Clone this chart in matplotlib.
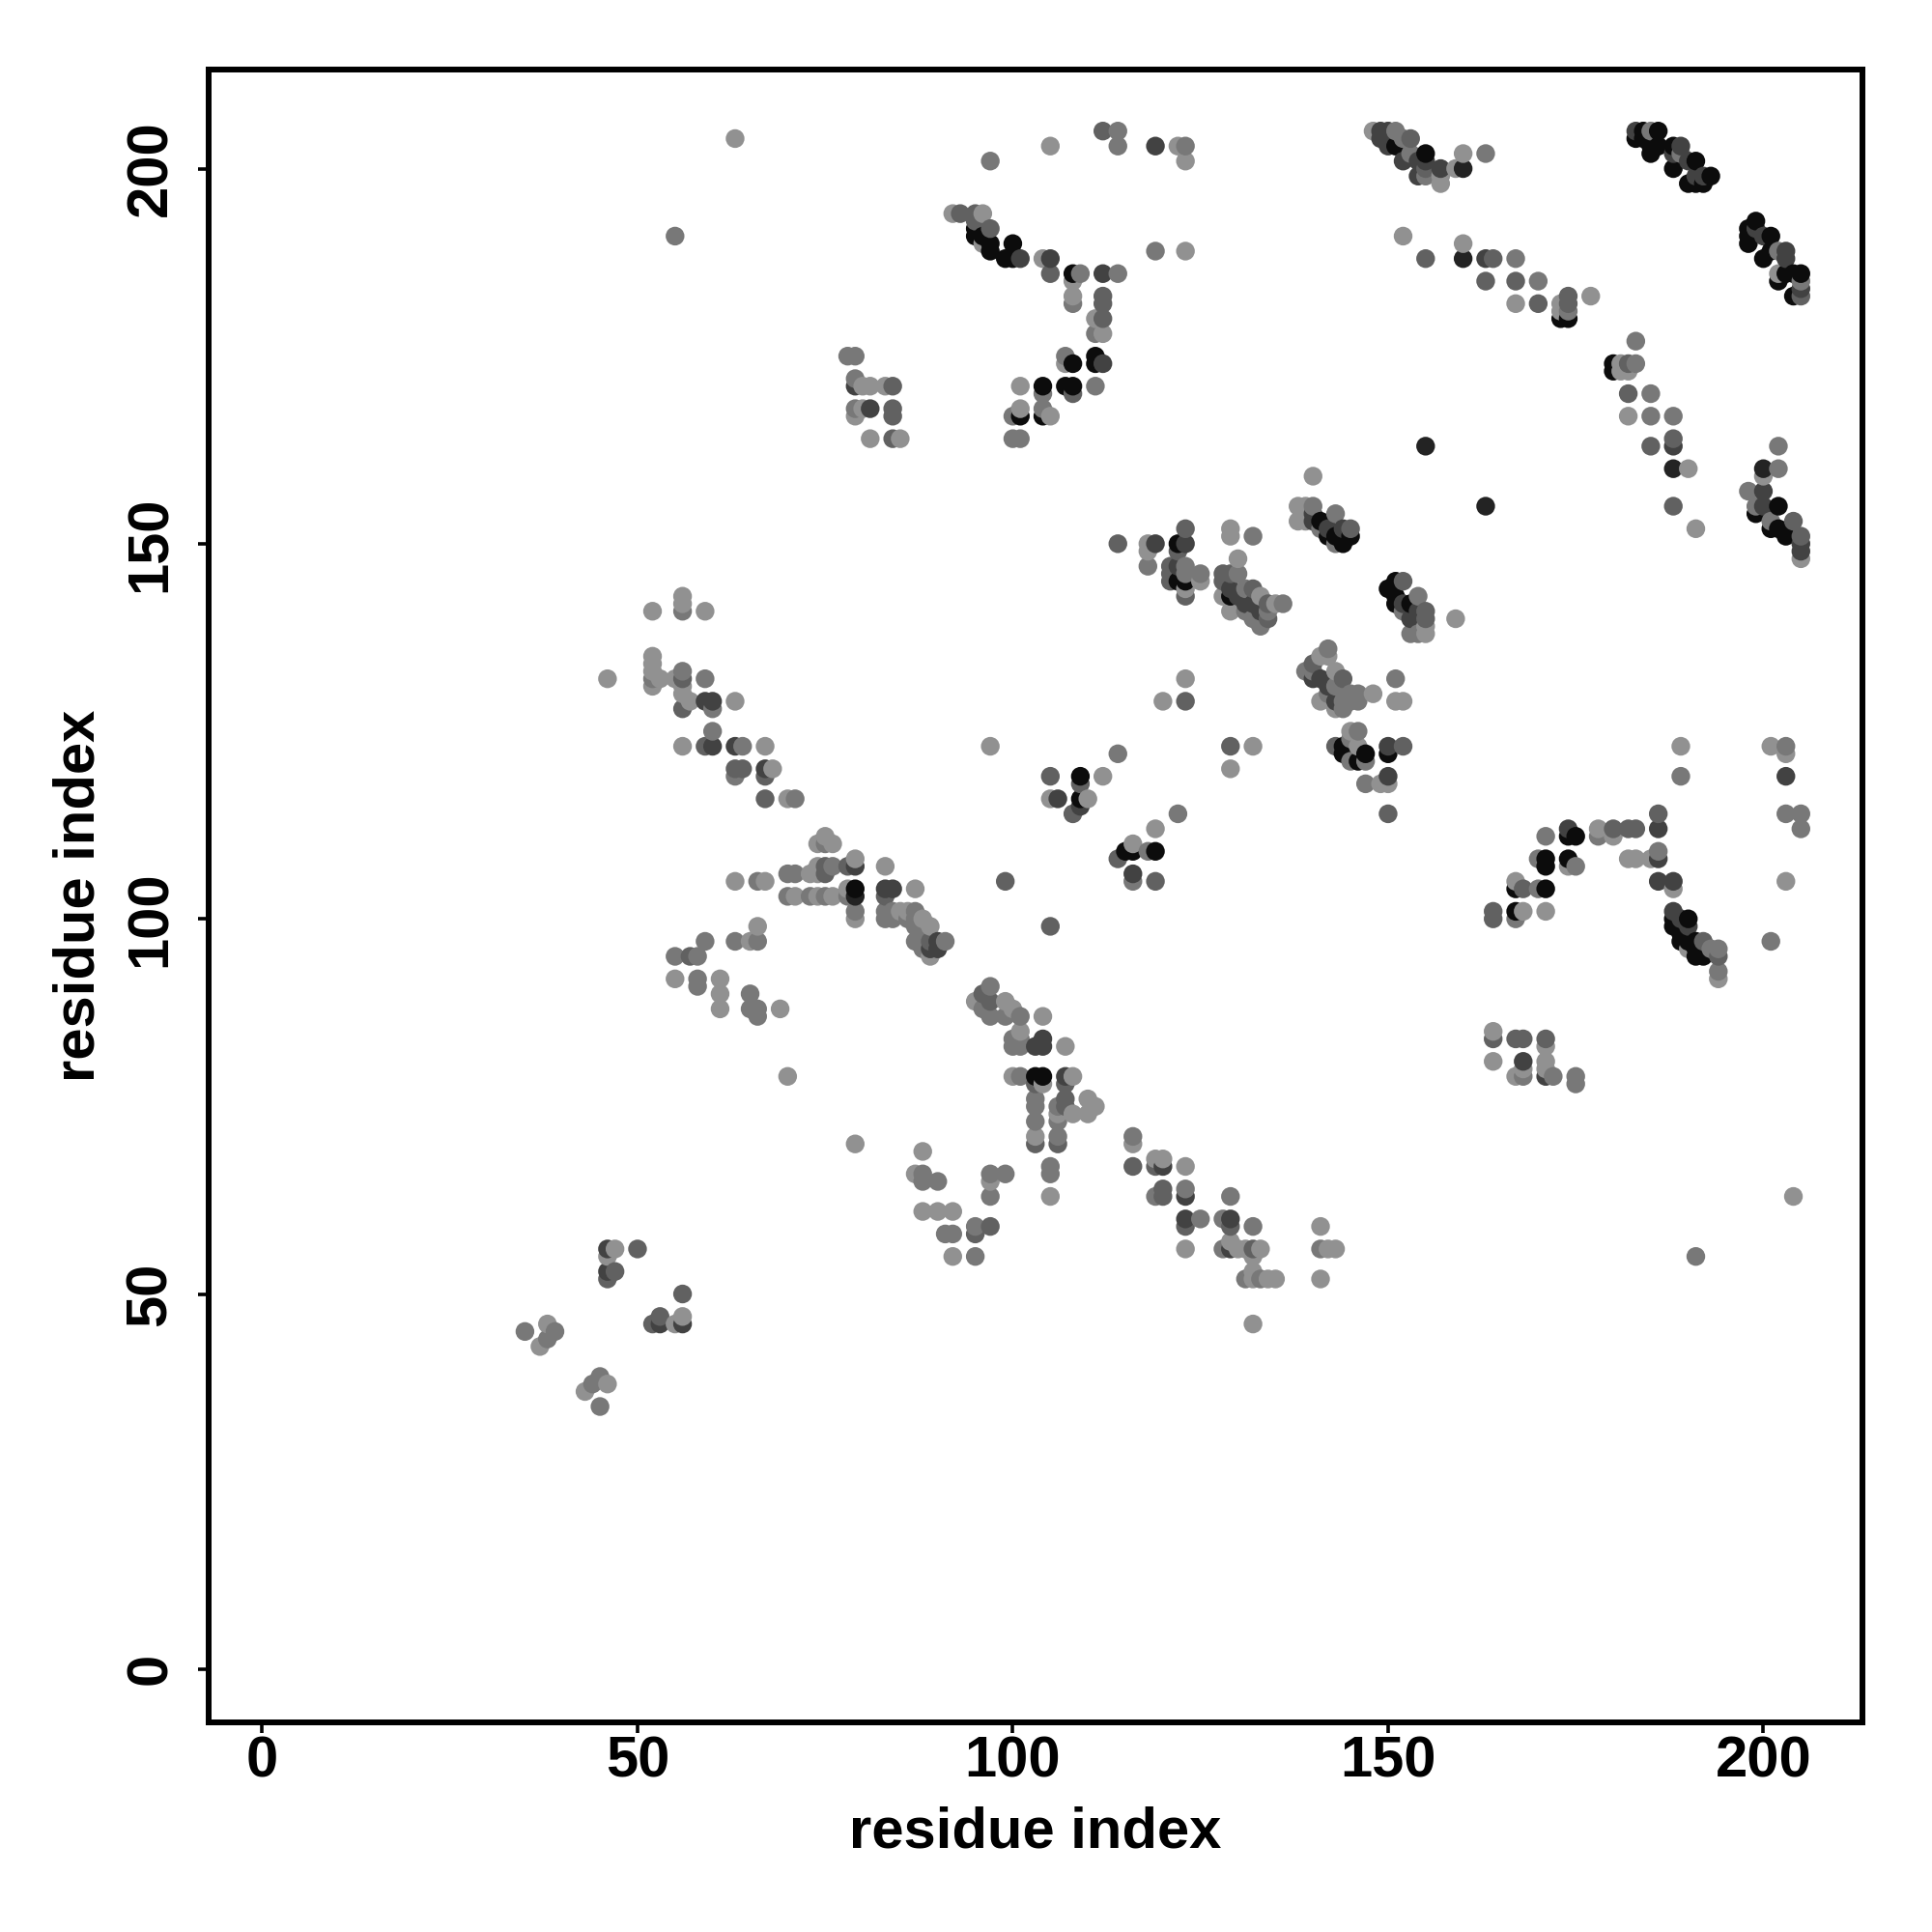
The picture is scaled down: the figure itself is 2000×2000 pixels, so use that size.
import matplotlib

matplotlib.use("Agg")
import matplotlib.pyplot as plt
import numpy as np

plt.rcParams["font.family"] = ["Liberation Sans", "DejaVu Sans"]
plt.rcParams["font.weight"] = "bold"

# contacts as (residue i, residue j), one list per grey tone
pale = [
    (63, 204), (105, 203), (122, 203), (123, 201), (123, 189), (92, 194), (96, 194),
    (96, 190), (104, 188), (108, 185), (108, 183), (111, 180), (112, 178), (107, 174),
    (101, 171), (105, 167), (101, 168), (80, 171), (80, 168), (79, 167), (81, 171),
    (83, 171), (81, 164), (85, 164), (140, 159), (118, 150), (118, 149), (123, 144),
    (125, 145), (129, 152), (129, 151), (130, 148), (128, 143), (129, 141), (133, 143),
    (135, 142), (138, 155), (139, 155), (138, 153), (139, 153), (155, 139), (155, 138),
    (159, 140), (141, 135), (142, 135), (143, 133), (148, 130), (141, 129), (143, 128),
    (151, 129), (152, 129), (123, 132), (120, 129), (132, 123), (129, 120), (145, 125),
    (146, 123), (149, 118), (150, 118), (112, 119), (110, 116), (119, 112), (116, 110),
    (148, 205), (157, 198), (157, 199), (159, 200), (160, 202), (152, 191), (160, 190),
    (167, 182), (173, 182), (173, 181), (177, 183), (181, 174), (181, 173), (182, 173),
    (182, 167), (190, 160), (191, 152), (200, 159), (205, 148), (202, 186), (38, 46),
    (37, 43), (43, 37), (46, 38), (47, 56), (46, 55), (55, 46), (56, 47), (56, 143),
    (56, 142), (52, 141), (59, 141), (46, 132), (52, 135), (52, 134), (52, 133),
    (52, 131), (53, 132), (55, 132), (56, 131), (56, 130), (57, 129), (63, 129),
    (56, 123), (67, 123), (97, 123), (68, 120), (70, 116), (105, 116), (75, 111),
    (74, 110), (76, 110), (79, 108), (73, 106), (74, 107), (74, 106), (63, 105),
    (67, 105), (71, 103), (74, 103), (76, 103), (78, 104), (79, 100), (83, 107),
    (87, 104), (85, 101), (86, 101), (88, 100), (89, 99), (89, 95), (65, 97), (66, 99),
    (55, 92), (61, 92), (61, 90), (61, 88), (69, 88), (95, 89), (99, 89), (100, 88),
    (101, 85), (104, 87), (107, 83), (100, 79), (104, 78), (108, 79), (103, 71),
    (108, 74), (106, 74), (110, 76), (111, 75), (110, 74), (116, 70), (119, 68),
    (105, 63), (97, 65), (88, 69), (87, 66), (88, 61), (90, 61), (92, 61), (92, 55),
    (79, 70), (70, 79), (120, 68), (123, 67), (123, 56), (129, 57), (130, 56), (131, 56),
    (133, 56), (132, 55), (132, 53), (132, 52), (134, 52), (135, 52), (141, 59),
    (142, 56), (143, 56), (141, 52), (132, 46), (189, 123), (201, 123), (203, 122),
    (203, 105), (180, 111), (178, 112), (174, 107), (182, 108), (183, 108), (185, 108),
    (188, 104), (167, 105), (168, 101), (171, 101), (190, 96), (194, 92), (164, 85),
    (171, 83), (164, 81), (171, 81), (171, 80), (167, 79), (168, 80), (204, 63),
]
mid = [
    (97, 201), (114, 205), (114, 203), (123, 203), (119, 189), (109, 186), (114, 186),
    (108, 182), (111, 178), (107, 175), (111, 171), (104, 170), (104, 168), (100, 167),
    (100, 164), (101, 164), (78, 175), (79, 175), (79, 172), (79, 168), (55, 191),
    (118, 147), (123, 147), (123, 146), (125, 146), (132, 151), (130, 146), (131, 144),
    (131, 141), (132, 140), (133, 139), (134, 141), (136, 142), (140, 155), (143, 154),
    (141, 152), (143, 150), (154, 143), (152, 141), (153, 138), (154, 138), (142, 136),
    (139, 133), (140, 133), (143, 131), (142, 130), (145, 130), (146, 130), (144, 129),
    (145, 129), (146, 129), (144, 128), (151, 132), (146, 125), (145, 124), (145, 121),
    (147, 121), (147, 118), (114, 122), (122, 114), (118, 109), (116, 105), (151, 205),
    (152, 204), (153, 202), (155, 199), (163, 202), (167, 188), (170, 185), (174, 181),
    (183, 177), (183, 174), (185, 170), (185, 167), (188, 167), (202, 163), (202, 160),
    (198, 157), (199, 155), (201, 153), (185, 205), (189, 202), (202, 189), (205, 185),
    (35, 45), (38, 44), (39, 45), (45, 39), (44, 38), (45, 35), (56, 141), (52, 132),
    (56, 133), (59, 132), (60, 128), (60, 125), (64, 123), (63, 119), (71, 116), (75, 110),
    (76, 107), (70, 106), (71, 106), (66, 105), (70, 103), (73, 103), (75, 103), (78, 103),
    (79, 101), (83, 101), (83, 100), (84, 101), (84, 100), (87, 101), (86, 100), (87, 100),
    (87, 99), (88, 98), (87, 97), (88, 97), (91, 97), (88, 96), (66, 97), (63, 97),
    (59, 97), (55, 95), (58, 95), (58, 92), (58, 91), (65, 90), (65, 88), (66, 88),
    (66, 87), (97, 91), (96, 88), (97, 87), (99, 87), (101, 87), (100, 84), (101, 84),
    (100, 83), (101, 83), (101, 79), (103, 76), (103, 75), (103, 73), (106, 75), (106, 73),
    (106, 71), (116, 71), (119, 63), (105, 67), (105, 66), (97, 66), (99, 66), (97, 63),
    (88, 66), (88, 65), (90, 65), (91, 58), (92, 58), (95, 59), (95, 55), (123, 64),
    (129, 63), (125, 60), (128, 60), (132, 59), (128, 56), (131, 52), (133, 52), (141, 56),
    (189, 119), (203, 123), (203, 114), (205, 114), (205, 112), (201, 97), (178, 111),
    (171, 111), (170, 108), (175, 107), (186, 109), (170, 104), (167, 100), (193, 96),
    (194, 96), (194, 93), (168, 79), (172, 79), (175, 79), (175, 78), (191, 55),
]
middark = [
    (112, 205), (93, 194), (95, 193), (95, 194), (97, 192), (105, 186), (112, 183),
    (112, 182), (112, 180), (84, 171), (84, 168), (84, 167), (84, 164), (108, 170),
    (114, 150), (123, 152), (122, 149), (121, 147), (121, 146), (121, 145), (123, 143),
    (128, 146), (129, 146), (128, 145), (132, 144), (134, 142), (134, 140), (145, 152),
    (152, 145), (155, 141), (155, 140), (140, 134), (144, 132), (129, 123), (123, 129),
    (143, 123), (152, 123), (150, 114), (109, 118), (108, 114), (114, 108), (119, 105),
    (153, 204), (155, 188), (164, 188), (163, 185), (167, 185), (170, 182), (174, 183),
    (174, 182), (182, 174), (182, 170), (185, 163), (188, 164), (188, 155), (204, 153),
    (205, 151), (205, 183), (155, 200), (47, 53), (46, 52), (50, 56), (56, 50), (52, 46),
    (53, 47), (56, 132), (56, 128), (59, 123), (63, 120), (64, 120), (67, 119), (67, 116),
    (105, 119), (75, 107), (75, 106), (78, 107), (83, 103), (99, 105), (105, 99),
    (89, 97), (57, 95), (96, 90), (97, 89), (103, 78), (107, 78), (103, 70), (107, 76),
    (107, 75), (106, 70), (116, 67), (119, 67), (97, 59), (95, 58), (120, 64), (120, 63),
    (123, 59), (129, 59), (132, 56), (186, 114), (183, 112), (182, 112), (180, 112),
    (168, 104), (164, 101), (164, 100), (192, 97), (194, 95), (164, 84), (167, 84),
    (168, 84), (171, 84),
]
dark = [
    (119, 203), (101, 188), (105, 188), (112, 186), (112, 174), (79, 171), (81, 168),
    (119, 150), (123, 150), (122, 147), (129, 144), (130, 143), (131, 142), (132, 142),
    (133, 141), (140, 154), (142, 152), (144, 152), (140, 153), (152, 142), (154, 141),
    (153, 140), (140, 132), (141, 132), (142, 131), (143, 129), (150, 123), (150, 119),
    (116, 106), (106, 116), (109, 115), (149, 205), (150, 205), (149, 204), (150, 203),
    (152, 201), (155, 201), (154, 199), (154, 201), (157, 200), (163, 188), (188, 163),
    (200, 157), (200, 155), (183, 205), (189, 203), (188, 202), (190, 201), (191, 199),
    (192, 199), (199, 192), (200, 191), (203, 189), (203, 188), (205, 184), (205, 150),
    (205, 149), (46, 56), (46, 53), (53, 46), (56, 46), (59, 129), (60, 129), (60, 123),
    (63, 123), (67, 120), (79, 107), (83, 104), (84, 104), (89, 96), (90, 97), (90, 96),
    (103, 83), (104, 84), (104, 83), (107, 79), (120, 67), (123, 63), (123, 60), (129, 60),
    (129, 56), (203, 119), (174, 112), (186, 112), (186, 108), (186, 105), (188, 105),
    (188, 101), (189, 100), (190, 99), (168, 81), (171, 79),
]
near_black = [(155, 163), (163, 155), (160, 200), (160, 188), (188, 160), (200, 160), (79, 103)]
black = [
    (95, 192), (95, 191), (96, 191), (97, 190), (97, 189), (100, 190), (100, 188),
    (99, 188), (108, 186), (108, 174), (111, 175), (111, 174), (104, 171), (107, 171),
    (108, 171), (101, 167), (104, 167), (122, 150), (122, 145), (123, 145), (129, 143),
    (141, 153), (142, 151), (143, 151), (144, 150), (145, 151), (151, 145), (150, 144),
    (151, 143), (151, 142), (153, 142), (144, 123), (144, 122), (147, 122), (146, 121),
    (150, 122), (109, 119), (109, 116), (115, 109), (116, 109), (119, 109), (151, 203),
    (155, 202), (173, 180), (174, 180), (180, 174), (180, 173), (202, 155), (199, 154),
    (201, 152), (202, 152), (203, 151), (184, 205), (186, 205), (183, 204), (184, 204),
    (185, 203), (185, 202), (186, 203), (188, 203), (188, 200), (191, 201), (190, 198),
    (191, 198), (192, 198), (193, 199), (199, 193), (198, 192), (198, 191), (198, 190),
    (201, 191), (200, 188), (201, 189), (202, 185), (203, 186), (204, 186), (205, 186),
    (204, 183), (79, 104), (103, 79), (104, 79), (174, 111), (175, 111), (171, 108),
    (171, 107), (174, 108), (167, 104), (171, 104), (167, 101), (188, 100), (188, 99),
    (190, 100), (189, 98), (189, 97), (190, 97), (191, 97), (191, 96), (192, 96),
    (191, 95), (192, 95),
]
tone_lists = [pale, mid, middark, dark, near_black, black]
tone_greys = [0.57, 0.47, 0.38, 0.26, 0.14, 0.05]

ticks = [0, 50, 100, 150, 200]

xs, ys, greys = [], [], []
for contacts, grey in zip(tone_lists, tone_greys):
    for i, j in contacts:
        xs.append(i)
        ys.append(j)
        greys.append(grey)
xs = np.array(xs)
ys = np.array(ys)
greys = np.array(greys)

# same draw order as the original: by i, then j
order = np.lexsort((ys, xs))

fig = plt.figure(figsize=(20, 20), dpi=100)
ax = fig.add_axes([0.108, 0.1085, 0.856, 0.8555])
ax.scatter(
    xs[order],
    ys[order],
    s=195,
    c=greys[order],
    cmap="gray",
    vmin=0,
    vmax=1,
    linewidths=0,
    zorder=3,
)

ax.set_xlim(-7.14, 213.2)
ax.set_ylim(-7.1, 213.2)
ax.set_xticks(ticks)
ax.set_yticks(ticks)
ax.tick_params(axis="x", length=8, width=2.6, labelsize=43, pad=2)
ax.tick_params(axis="y", length=8, width=2.6, labelsize=43, pad=15)
for label in ax.get_yticklabels():
    label.set_rotation(90)
    label.set_va("center")
ax.set_xlabel("residue index", fontsize=43, fontweight="bold", labelpad=13)
ax.set_ylabel("residue index", fontsize=43, fontweight="bold", labelpad=14)
for spine in ax.spines.values():
    spine.set_linewidth(4.3)

fig.savefig("out.png", dpi=100)
